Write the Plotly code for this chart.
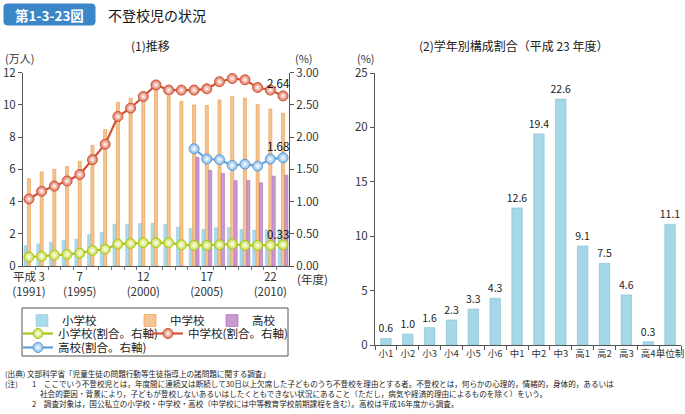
import plotly.graph_objects as go

W, H = 685, 414
FONT = "Noto Sans CJK JP"

# ---------------- data ----------------
years = list(range(1991, 2012))
elem_count = [1.26, 1.37, 1.48, 1.58, 1.66, 1.95, 2.08, 2.60, 2.60, 2.64, 2.65,
              2.59, 2.41, 2.33, 2.27, 2.38, 2.39, 2.27, 2.23, 2.25, 2.26]
jhs_count = [5.42, 5.84, 6.00, 6.17, 6.50, 7.49, 8.47, 10.17, 10.42, 10.79, 11.22,
             10.54, 10.21, 10.00, 9.96, 10.31, 10.53, 10.42, 10.01, 9.74, 9.48]
hs_count = [None] * 13 + [6.75, 5.94, 5.75, 5.30, 5.30, 5.17, 5.58, 5.64]
elem_rate = [0.14, 0.15, 0.17, 0.18, 0.20, 0.24, 0.26, 0.34, 0.35, 0.36, 0.36,
             0.36, 0.33, 0.32, 0.32, 0.33, 0.34, 0.32, 0.32, 0.32, 0.33]
jhs_rate = [1.04, 1.16, 1.24, 1.32, 1.42, 1.65, 1.89, 2.32, 2.45, 2.63, 2.81,
            2.73, 2.73, 2.73, 2.75, 2.86, 2.91, 2.89, 2.77, 2.73, 2.64]
hs_rate = [None] * 13 + [1.82, 1.66, 1.65, 1.56, 1.58, 1.55, 1.66, 1.68]

tick_years = [1991, 1995, 2000, 2005, 2010]
tick_texts = ["平成 3<br>(1991)", "7<br>(1995)", "12<br>(2000)", "17<br>(2005)", "22<br>(2010)"]

grades = ["小1", "小2", "小3", "小4", "小5", "小6", "中1", "中2", "中3",
          "高1", "高2", "高3", "高4", "単位制"]
grade_share = [0.6, 1.0, 1.6, 2.3, 3.3, 4.3, 12.6, 19.4, 22.6, 9.1, 7.5, 4.6, 0.3, 11.1]


def px(x):
    return x / W


def py(y):
    return 1 - y / H


fig = go.Figure()

# bars (left chart)
fig.add_trace(go.Bar(x=years, y=elem_count, name="小学校", xaxis="x", yaxis="y",
                     marker=dict(color="#aadbeb", line=dict(color="#86c6dc", width=0.5)),
                     legend="legend"))
fig.add_trace(go.Bar(x=years, y=jhs_count, name="中学校", xaxis="x", yaxis="y",
                     marker=dict(color="#f4c493", line=dict(color="#e8953f", width=0.6)),
                     legend="legend2"))
fig.add_trace(go.Bar(x=years, y=hs_count, name="高校", xaxis="x", yaxis="y",
                     marker=dict(color="#cb9ad3", line=dict(color="#a866b3", width=0.6)),
                     legend="legend3"))


def line_trace(y, name, lc, mc, leg):
    return go.Scatter(x=years, y=y, name=name, xaxis="x", yaxis="y2",
                      mode="lines+markers", legend=leg,
                      line=dict(color=lc, width=2.2),
                      marker=dict(size=10, color=mc, line=dict(color=lc, width=1),
                                  gradient=dict(type="radial", color="#ffffff")))


fig.add_trace(line_trace(elem_rate, "小学校(割合。右軸)", "#a9c41d", "#c6dc3c", "legend4"))
fig.add_trace(line_trace(jhs_rate, "中学校(割合。右軸)", "#cf5436", "#de6f54", "legend5"))
fig.add_trace(line_trace(hs_rate, "高校(割合。右軸)", "#5f9ed8", "#86b9e8", "legend6"))

# right chart
fig.add_trace(go.Bar(x=grades, y=grade_share, xaxis="x2", yaxis="y3", width=0.48,
                     marker=dict(color="#a6d7e6", line=dict(color="#80bfd3", width=0.6)),
                     text=[f"{v:.1f}" for v in grade_share], textposition="outside",
                     constraintext="none",
                     textfont=dict(size=10.5, color="#222"), cliponaxis=False,
                     showlegend=False))

base = dict(showgrid=False, zeroline=False, showline=True, linecolor="#555",
            linewidth=1, tickcolor="#555", automargin=False)
tf = dict(size=11.5, color="#333", family=FONT)

fig.update_layout(
    width=W, height=H, margin=dict(l=0, r=0, t=0, b=0, autoexpand=False),
    autosize=False,
    paper_bgcolor="white", plot_bgcolor="white",
    font=dict(family=FONT, color="#222"),
    barmode="group", bargap=0.2, bargroupgap=0.1,
    xaxis=dict(domain=[px(23), px(289)], range=[1990.53, 2011.47],
               tickvals=tick_years, ticktext=tick_texts, anchor="y", ticks="",
               tickangle=0, tickfont=tf,
               minor=dict(tick0=1990.5, dtick=1, ticks="outside", ticklen=3,
                          tickcolor="#777"), **base),
    yaxis=dict(domain=[py(266), py(72.7)], range=[0, 12], dtick=2, anchor="x",
               ticks="outside", ticklen=4, tickfont=tf, **base),
    yaxis2=dict(domain=[py(266), py(72.7)], range=[0, 3], dtick=0.5, tickformat=".2f",
                overlaying="y", side="right", anchor="x",
                ticks="outside", ticklen=4, tickfont=tf, **base),
    xaxis2=dict(domain=[px(375), px(681)], anchor="y3", tickson="boundaries",
                ticks="outside", ticklen=4, tickangle=0,
                tickfont=dict(size=9.5, color="#333", family=FONT), **base),
    yaxis3=dict(domain=[py(345), py(73)], range=[0, 25], dtick=5, anchor="x2",
                ticks="outside", ticklen=4, tickfont=tf, **base),
)

# legends (one entry each, positioned like the reference box)
leg_font = dict(size=11.5, color="#222", family=FONT)
legend_pos = {
    "legend": (22, 306), "legend2": (130, 306), "legend3": (212, 306),
    "legend4": (18, 319), "legend5": (148, 319), "legend6": (18, 333),
}
for k, (lx, ly) in legend_pos.items():
    fig.update_layout({k: dict(x=px(lx), y=py(ly), xanchor="left", yanchor="top",
                               bgcolor="rgba(0,0,0,0)", font=leg_font,
                               orientation="v", itemwidth=30, borderwidth=0)})

fig.add_shape(type="rect", xref="paper", yref="paper",
              x0=px(22), x1=px(288), y0=py(356), y1=py(308),
              line=dict(color="#555", width=1), fillcolor="rgba(0,0,0,0)")

# title badge (rounded rectangle, pixel path converted to paper coords)
x0b, x1b, y0b, y1b, r = 4, 95, 4, 25, 3
def P(x, y):
    return f"{px(x)},{py(y)}"
badge = (f"M {P(x0b + r, y0b)} L {P(x1b - r, y0b)} Q {P(x1b, y0b)} {P(x1b, y0b + r)} "
         f"L {P(x1b, y1b - r)} Q {P(x1b, y1b)} {P(x1b - r, y1b)} "
         f"L {P(x0b + r, y1b)} Q {P(x0b, y1b)} {P(x0b, y1b - r)} "
         f"L {P(x0b, y0b + r)} Q {P(x0b, y0b)} {P(x0b + r, y0b)} Z")
fig.add_shape(type="path", xref="paper", yref="paper", path=badge,
              line=dict(color="#3b86c6", width=1), fillcolor="#3b86c6")

annos = [
    dict(x=px(49.5), y=py(14.5), text="<b>第1-3-23図</b>", font=dict(size=13.5, color="white")),
    dict(x=px(106), y=py(14.5), text="不登校児の状況", xanchor="left", font=dict(size=14, color="#111")),
    dict(x=px(150), y=py(45), text="(1)推移", font=dict(size=12, color="#222")),
    dict(x=px(513), y=py(45), text="(2)学年別構成割合（平成 23 年度）", font=dict(size=12, color="#222")),
    dict(x=px(3), y=py(58), text="(万人)", xanchor="left", font=dict(size=11, color="#333")),
    dict(x=px(293), y=py(58), text="(%)", xanchor="left", font=dict(size=11, color="#333")),
    dict(x=px(355), y=py(58), text="(%)", xanchor="left", font=dict(size=11, color="#333")),
    dict(x=px(295), y=py(279), text="(年度)", xanchor="left", font=dict(size=11.5, color="#333")),
]
for a in annos:
    a.update(xref="paper", yref="paper", showarrow=False,
             yanchor=a.get("yanchor", "middle"), xanchor=a.get("xanchor", "center"))
    fig.add_annotation(**a)

for val, shift in [(jhs_rate[-1], 13), (hs_rate[-1], 12), (elem_rate[-1], 11)]:
    fig.add_annotation(x=years[-1], y=val, xref="x", yref="y2", text=f"{val:.2f}",
                       showarrow=False, yshift=shift, xshift=-5,
                       font=dict(size=11.5, color="#111"))

notes = [
    (3, 373, "(出典) 文部科学省「児童生徒の問題行動等生徒指導上の諸問題に関する調査」"),
    (3, 383, "(注)"),
    (30, 383, "1　ここでいう不登校児とは，年度間に連続又は断続して30日以上欠席した子どものうち不登校を理由とする者。不登校とは，何らかの心理的，情緒的，身体的，あるいは"),
    (38, 393, "社会的要因・背景により，子どもが登校しないあるいはしたくともできない状況にあること（ただし，病気や経済的理由によるものを除く）をいう。"),
    (30, 403, "2　調査対象は，国公私立の小学校・中学校・高校（中学校には中等教育学校前期課程を含む）。高校は平成16年度から調査。"),
]
for x0, y0, t in notes:
    fig.add_annotation(x=px(x0), y=py(y0), xref="paper", yref="paper", text=t,
                       showarrow=False, xanchor="left", yanchor="middle",
                       font=dict(size=7.6, color="#222"))

fig.write_html("out.html", config={"displayModeBar": False},
               post_script="document.body.style.margin='0';document.body.style.overflow='hidden';")
